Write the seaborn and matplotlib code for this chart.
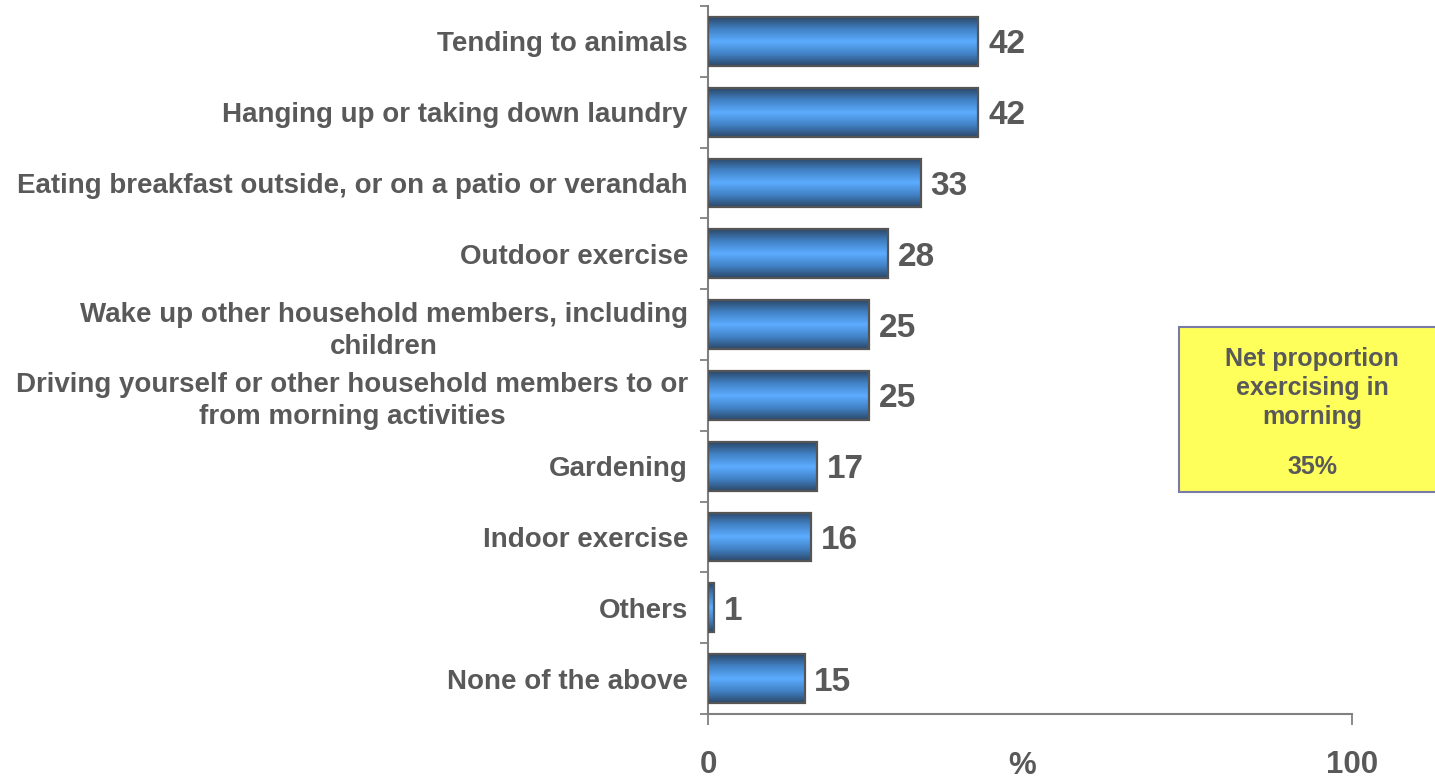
import numpy as np
import pandas as pd
import matplotlib
matplotlib.use("Agg")
import matplotlib.pyplot as plt
from matplotlib.colors import LinearSegmentedColormap
from matplotlib.patches import Rectangle
from matplotlib.ticker import FixedLocator
import seaborn as sns

# Morning activities (share of respondents, %)
activities = [
    "Tending to animals",
    "Hanging up or taking down laundry",
    "Eating breakfast outside, or on a patio or verandah",
    "Outdoor exercise",
    "Wake up other household members, including\nchildren",
    "Driving yourself or other household members to or\nfrom morning activities",
    "Gardening",
    "Indoor exercise",
    "Others",
    "None of the above",
]
shares = [42, 42, 33, 28, 25, 25, 17, 16, 1, 15]
x_ticks = [0, 100]
net_title = "Net proportion\nexercising in\nmorning"
net_value = "35%"

TEXT = "#595959"
AXIS = "#808080"

sns.set_theme(style="white")
plt.rcParams["font.family"] = ["Liberation Sans", "DejaVu Sans"]
plt.rcParams["font.weight"] = "bold"

W, H = 1435, 781
fig = plt.figure(figsize=(W / 100, H / 100), dpi=100)
ax = fig.add_axes([708 / W, 1 - 714 / H, (1352 - 708) / W, (714 - 6) / H])

df = pd.DataFrame({"activity": activities, "share": shares})
sns.barplot(data=df, x="share", y="activity", orient="h", width=0.69,
            color="#5aaaff", edgecolor="#555555", linewidth=1.6, ax=ax)

# Cylinder-style shading: dark edges, bright middle
cmap = LinearSegmentedColormap.from_list(
    "tube", [(0.0, "#2b4869"), (0.25, "#4282c6"), (0.5, "#5cacff"),
             (0.75, "#4282c6"), (1.0, "#2b4869")])
grad = np.linspace(0, 1, 256).reshape(-1, 1)
for p in ax.patches:
    x0, y0 = p.get_x(), p.get_y()
    w, h = p.get_width(), p.get_height()
    p.set_facecolor("none")
    p.set_zorder(3)
    im = ax.imshow(grad, cmap=cmap, aspect="auto", extent=[x0, x0 + w, y0 + h, y0],
                   zorder=2, interpolation="bilinear")
    im.set_clip_path(p)

value_texts = ax.bar_label(ax.containers[0], labels=[str(v) for v in shares],
                           padding=7, fontsize=24, fontweight="bold", color=TEXT)
for t in value_texts:
    t.set_verticalalignment("center_baseline")

ax.set_xlim(0, 100)
ax.set_ylim(len(activities) - 0.5, -0.5)

# Axis styling
for side in ["top", "right"]:
    ax.spines[side].set_visible(False)
for side in ["left", "bottom"]:
    ax.spines[side].set_color(AXIS)
    ax.spines[side].set_linewidth(1.5)

ax.set_yticks(range(len(activities)))
ax.set_yticklabels(activities, fontsize=20, fontweight="bold", color=TEXT,
                   multialignment="center", linespacing=1.3)
ax.tick_params(axis="y", which="major", length=0, pad=14.4)
ax.yaxis.set_minor_locator(FixedLocator(np.arange(-0.5, len(activities), 1.0)))
ax.tick_params(axis="y", which="minor", left=True, length=6, width=1.3,
               color=AXIS, direction="out")

ax.set_xticks(x_ticks)
ax.set_xticklabels([str(t) for t in x_ticks], fontsize=22.5, fontweight="bold", color=TEXT)
ax.tick_params(axis="x", which="major", bottom=True, length=8, width=1.3,
               color=AXIS, direction="out", pad=18)
ax.set_xlabel("")
ax.set_ylabel("")
ax.text(0.488, -0.0735, "%", transform=ax.transAxes, ha="center", va="center",
        fontsize=22.5, fontweight="bold", color=TEXT)

# Summary callout box
fig.add_artist(Rectangle((1179 / W, 1 - 492 / H), (W + 5 - 1179) / W, 165 / H,
                         transform=fig.transFigure, facecolor="#ffff5c",
                         edgecolor="#7a7aa8", linewidth=1.5))
fig.text(1312 / W, 1 - 388 / H, net_title, ha="center", va="center",
         fontsize=18, fontweight="bold", color=TEXT, linespacing=1.28)
fig.text(1312 / W, 1 - 467 / H, net_value, ha="center", va="center",
         fontsize=18, fontweight="bold", color=TEXT)

fig.savefig("out.png", dpi=100)
